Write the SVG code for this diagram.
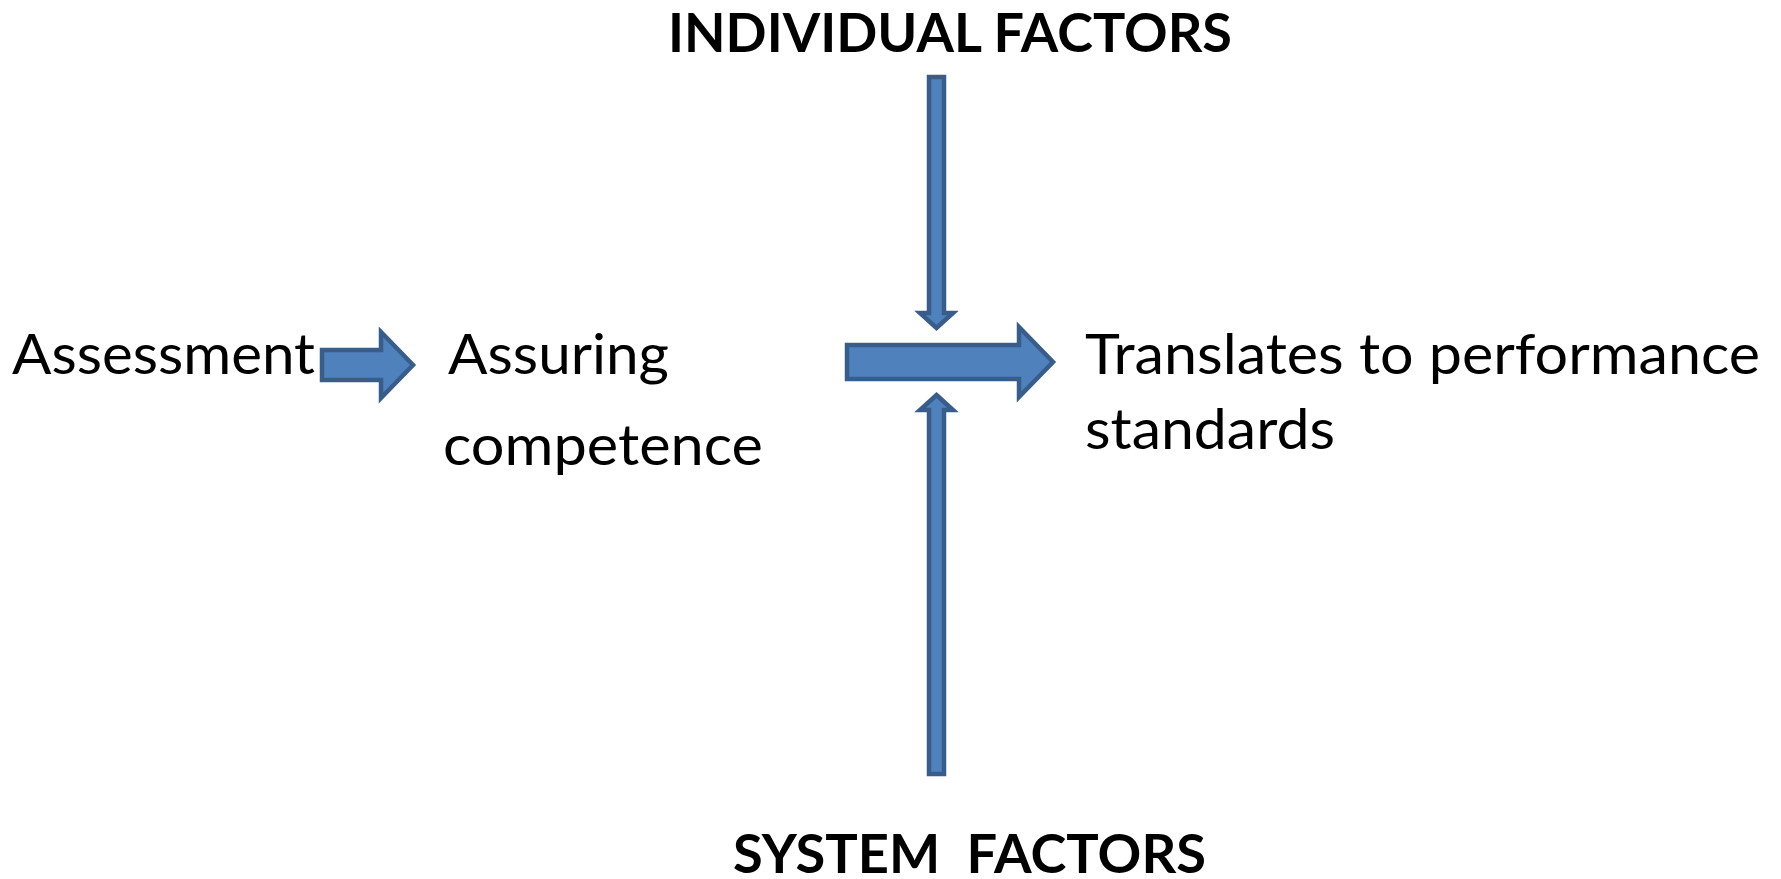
<svg xmlns="http://www.w3.org/2000/svg" width="1781" height="879" viewBox="0 0 1781 879">
  <style>
    .lbl { font-family: Lato, "Open Sans", "Liberation Sans", sans-serif; font-size: 56px; fill: #000; }
    .ttl { font-family: Lato, "Open Sans", "Liberation Sans", sans-serif; font-size: 53px; font-weight: bold; fill: #000; white-space: pre; }
    .arrow { fill: #4F81BD; stroke: #385D8A; stroke-width: 4.5; stroke-linejoin: miter; }
  </style>
  <rect width="1781" height="879" fill="#ffffff"/>

  <!-- block arrows -->
  <g id="connectors">
    <!-- Assessment -> Assuring competence -->
    <polygon class="arrow" points="322,350 381,350 381,332 413,365 381,398 381,380 322,380"/>
    <!-- main arrow toward performance standards -->
    <polygon class="arrow" points="847,345 1019,345 1019,327 1053,362 1019,397 1019,379 847,379"/>
    <!-- individual factors pressing down -->
    <polygon class="arrow" points="929,77 944,77 944,313 953,313 936.5,328 920,313 929,313"/>
    <!-- system factors pressing up -->
    <polygon class="arrow" points="936.5,395 953,410 944,410 944,774 929,774 929,410 920,410"/>
  </g>

  <g id="individual-factors">
    <text class="ttl" x="668" y="52" textLength="564" lengthAdjust="spacingAndGlyphs">INDIVIDUAL FACTORS</text>
  </g>

  <g id="system-factors">
    <text class="ttl" x="733" y="873" textLength="473" lengthAdjust="spacingAndGlyphs">SYSTEM  FACTORS</text>
  </g>

  <g id="assessment">
    <text class="lbl" x="12" y="374" textLength="303" lengthAdjust="spacingAndGlyphs">Assessment</text>
  </g>

  <g id="assuring-competence">
    <text class="lbl" x="448" y="374" textLength="221" lengthAdjust="spacingAndGlyphs">Assuring</text>
    <text class="lbl" x="443" y="465" textLength="320" lengthAdjust="spacingAndGlyphs">competence</text>
  </g>

  <g id="performance-standards">
    <text class="lbl" x="1085" y="374" textLength="675" lengthAdjust="spacingAndGlyphs">Translates to performance</text>
    <text class="lbl" x="1085" y="449" textLength="250" lengthAdjust="spacingAndGlyphs">standards</text>
  </g>
</svg>
